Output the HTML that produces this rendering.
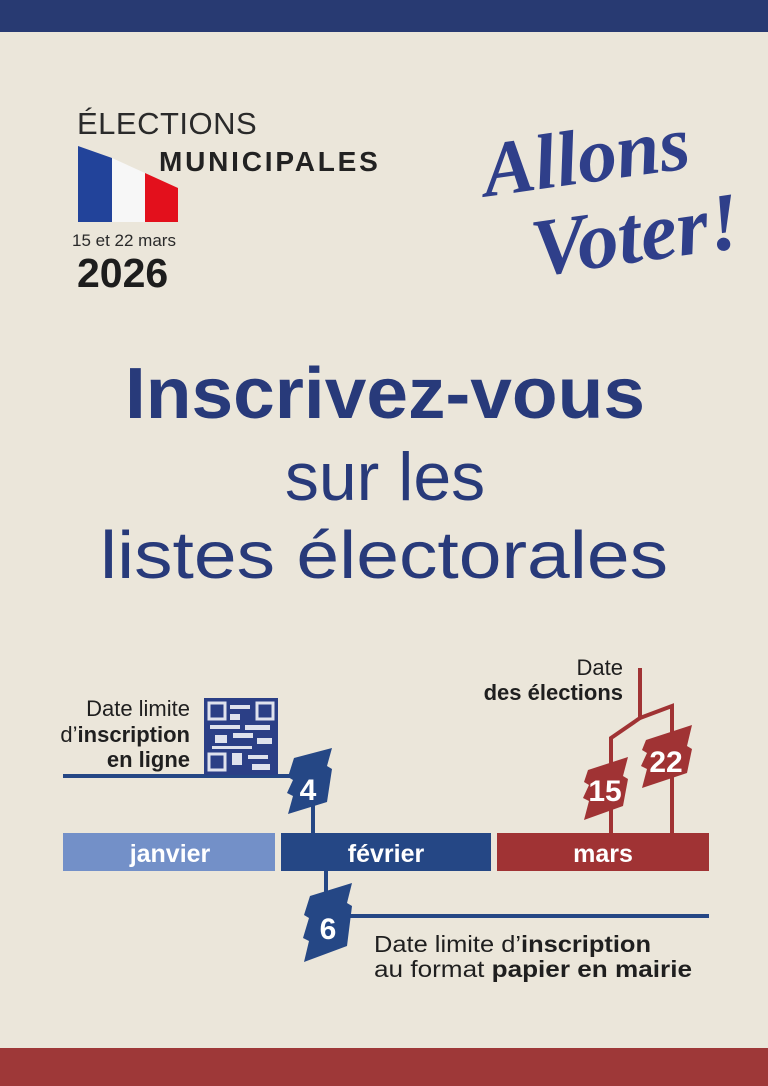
<!DOCTYPE html>
<html><head><meta charset="utf-8"><style>
html,body{margin:0;padding:0}
body{width:768px;height:1086px;overflow:hidden;background:#ebe6da}
svg{display:block}
</style></head><body>
<svg width="768" height="1086" viewBox="0 0 768 1086" xmlns="http://www.w3.org/2000/svg" font-family="Liberation Sans, sans-serif">
<rect x="0" y="0" width="768" height="1086" fill="#ebe6da"/>
<rect x="0" y="0" width="768" height="32" fill="#283a72"/>
<rect x="0" y="1048" width="768" height="38" fill="#9e3838"/>

<!-- logo -->
<text x="77" y="134" font-size="31" fill="#2a2a2a" letter-spacing="0.5">ÉLECTIONS</text>
<text x="159" y="171" font-size="28" font-weight="bold" fill="#222" letter-spacing="2.8">MUNICIPALES</text>
<polygon points="78,146 112,158 112,222 78,222" fill="#22439a"/>
<polygon points="112,158 145,173 145,222 112,222" fill="#f7f7f7"/>
<polygon points="145,173 178,188 178,222 145,222" fill="#e3101c"/>
<text x="72" y="246" font-size="17" fill="#2a2a2a">15 et 22 mars</text>
<text x="77" y="287" font-size="41" font-weight="bold" fill="#1d1d1d">2026</text>

<!-- Allons Voter -->
<g fill="#2f3f8a" font-family="Liberation Serif, serif" font-style="italic" font-weight="bold">
<text x="482" y="186" font-size="78" transform="rotate(-8 560 160)">Allons</text>
<text x="530" y="264" font-size="82" transform="rotate(-8 620 230)">Voter!</text>
</g>

<!-- title -->
<g fill="#283a7a" text-anchor="middle">
<text x="385" y="418" font-size="72" font-weight="bold" textLength="520" lengthAdjust="spacingAndGlyphs">Inscrivez-vous</text>
<text x="385" y="500" font-size="68">sur les</text>
<text x="384" y="578" font-size="67" textLength="568" lengthAdjust="spacingAndGlyphs">listes électorales</text>
</g>

<!-- timeline bars -->
<rect x="63" y="833" width="212" height="38" fill="#7390c8"/>
<rect x="281" y="833" width="210" height="38" fill="#254785"/>
<rect x="497" y="833" width="212" height="38" fill="#a03334"/>
<g fill="#fff" font-size="25" font-weight="bold" text-anchor="middle">
<text x="170" y="862">janvier</text>
<text x="386" y="862">février</text>
<text x="603" y="862">mars</text>
</g>

<!-- online -->
<g fill="#254785" stroke="none">
<rect x="63" y="774" width="230" height="4"/>
<rect x="311" y="800" width="4" height="33"/>
<polygon points="294,758 332,748 327,766 332,769 327,802 288,814 293,796 287,793 293,780 288,777"/>
</g>
<text x="308" y="800" font-size="30" font-weight="bold" fill="#fff" text-anchor="middle">4</text>
<rect x="204" y="698" width="74" height="77" fill="#2b3f86"/>
<g fill="#fff" opacity="0.85">
<rect x="209" y="703" width="16" height="16" fill="none" stroke="#fff" stroke-width="3"/>
<rect x="257" y="703" width="16" height="16" fill="none" stroke="#fff" stroke-width="3"/>
<rect x="209" y="754" width="16" height="16" fill="none" stroke="#fff" stroke-width="3"/>
<rect x="230" y="705" width="20" height="4"/><rect x="230" y="714" width="10" height="6"/>
<rect x="210" y="725" width="30" height="4"/><rect x="245" y="725" width="25" height="5"/>
<rect x="215" y="735" width="12" height="8"/><rect x="233" y="733" width="20" height="5"/><rect x="257" y="738" width="15" height="6"/>
<rect x="212" y="746" width="40" height="3"/><rect x="232" y="753" width="10" height="12"/><rect x="248" y="755" width="20" height="4"/><rect x="252" y="764" width="18" height="6"/>
</g>
<g fill="#1f1f1f" font-size="22" text-anchor="end">
<text x="190" y="716">Date limite</text>
<text x="190" y="742">d’<tspan font-weight="bold">inscription</tspan></text>
<text x="190" y="767" font-weight="bold">en ligne</text>
</g>

<!-- elections -->
<g stroke="#a03334" stroke-width="4" fill="none">
<polyline points="640,668 640,718 611,738 611,833"/>
<polyline points="640,718 672,706 672,833"/>
</g>
<g fill="#a03334">
<polygon points="588,770 628,757 623,776 628,779 623,806 584,820 589,801 583,798 589,785 584,782"/>
<polygon points="646,740 692,725 687,746 692,749 687,773 642,788 647,769 641,766 647,753 642,750"/>
</g>
<g fill="#fff" font-size="30" font-weight="bold" text-anchor="middle">
<text x="605" y="801">15</text>
<text x="666" y="772">22</text>
</g>
<g fill="#1f1f1f" font-size="22" text-anchor="end">
<text x="623" y="675">Date</text>
<text x="623" y="700" font-weight="bold">des élections</text>
</g>

<!-- paper -->
<g fill="#254785">
<rect x="324" y="871" width="4" height="30"/>
<rect x="340" y="914" width="369" height="4"/>
<polygon points="310,896 352,883 347,903 352,906 347,946 304,962 309,941 303,938 309,918 304,915"/>
</g>
<text x="328" y="939" font-size="30" font-weight="bold" fill="#fff" text-anchor="middle">6</text>
<g fill="#1f1f1f" font-size="23">
<text x="374" y="952" textLength="277" lengthAdjust="spacingAndGlyphs">Date limite d’<tspan font-weight="bold">inscription</tspan></text>
<text x="374" y="977" textLength="318" lengthAdjust="spacingAndGlyphs">au format <tspan font-weight="bold">papier en mairie</tspan></text>
</g>
</svg>
</body></html>
